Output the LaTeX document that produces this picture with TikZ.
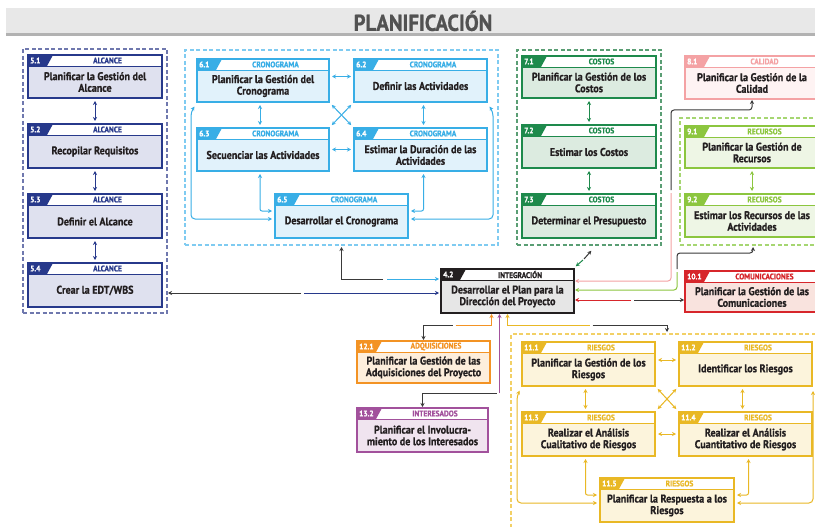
\documentclass[tikz,border=0pt]{standalone}
\usepackage{fontspec}
\setmainfont{PT Sans}[FakeStretch=0.9, BoldFeatures={FakeBold=0.8}]
\usetikzlibrary{arrows.meta,calc}
\definecolor{alc}{HTML}{27398B}\definecolor{alcF}{HTML}{DFE1EF}
\definecolor{cro}{HTML}{38AEE6}\definecolor{croF}{HTML}{E1F2FB}
\definecolor{cos}{HTML}{1E8A4C}\definecolor{cosF}{HTML}{DCEBE0}
\definecolor{cal}{HTML}{F4A2A4}\definecolor{calF}{HTML}{FEF3F3}
\definecolor{rec}{HTML}{8CC63F}\definecolor{recF}{HTML}{EEF6E5}
\definecolor{com}{HTML}{D7262B}\definecolor{comF}{HTML}{F9E3DE}
\definecolor{itg}{HTML}{231F20}\definecolor{itgF}{HTML}{E6E6E6}
\definecolor{adq}{HTML}{F39324}\definecolor{adqF}{HTML}{FDEEDC}
\definecolor{ite}{HTML}{A2519C}\definecolor{iteF}{HTML}{F0E4EF}
\definecolor{rie}{HTML}{E9B825}\definecolor{rieF}{HTML}{FCF4DC}
\definecolor{txt}{HTML}{231F20}
\definecolor{lnk}{HTML}{3A3A3A}
\definecolor{galc}{HTML}{6F78AE}
\definecolor{gcro}{HTML}{7FCBF1}
\definecolor{gcos}{HTML}{5A9E74}
\definecolor{grec}{HTML}{A6D672}
\definecolor{grie}{HTML}{F2D066}
\tikzset{
  numf/.style={font=\fontsize{8.2}{8.2}\selectfont\bfseries, text=white, inner sep=0pt},
  labf/.style={font=\fontsize{8.2}{8.2}\selectfont\bfseries, inner sep=0pt},
  bodyf/.style={font=\fontsize{11.2}{11.6}\selectfont\bfseries, text=txt, align=center, inner sep=0pt},
  grp/.style={dash pattern=on 4pt off 2.5pt, line width=1.2pt, inner sep=0pt, outer sep=0pt, anchor=north west},
  link/.style={line width=1pt, arrows={-Stealth[length=4pt,width=4pt]}, shorten >=1pt},
  dbl/.style={line width=1pt, arrows={Stealth[length=4pt,width=4pt]-Stealth[length=4pt,width=4pt]}, shorten >=3pt, shorten <=3pt},
}
\newcommand\procbox[9]{%
  \node[draw=#6, line width=1.4pt, fill=#6F, minimum width=#4pt, minimum height=#5pt, inner sep=0pt, outer sep=0pt, anchor=north west] (#1) at (#2,#3) {};
  \fill[white] ([xshift=0.6pt,yshift=-0.6pt]#1.north west) rectangle ([xshift=-0.6pt,yshift=-11pt]#1.north east);
  \fill[#6] (#1.north west) -- ([xshift=25pt]#1.north west) -- ([xshift=19pt,yshift=-11pt]#1.north west) -- ([yshift=-11pt]#1.north west) -- cycle;
  \draw[#6, line width=0.9pt] ([yshift=-11pt]#1.north west) -- ([yshift=-11pt]#1.north east);
  \draw[#6, line width=1.4pt] (#1.north west) rectangle (#1.south east);
  \node[numf, anchor=west] (#1n) at ([xshift=2pt,yshift=-5.5pt]#1.north west) {#7};
  \node[labf, text=#6] (#1l) at ([xshift=12.5pt,yshift=-5.5pt]#1.north) {#8};
  \node[bodyf] (#1t) at ([yshift={(#5-11)/2*1pt}]#1.south) {#9};
}
\begin{document}
\begin{tikzpicture}[x=1pt,y=-1pt]
\useasboundingbox (0,0) rectangle (815,527);
\fill[white] (0,0) rectangle (815,527);
% title band
\fill[black!9] (6,8) rectangle (815,33);
\fill[black!30] (6,33) rectangle (815,36);
\node[font=\fontsize{23}{23}\selectfont\bfseries, text=black!68, inner sep=0pt] (title) at (423,21) {PLANIFICACIÓN};
% groups
\node[grp, draw=galc, minimum width=144pt, minimum height=264pt] (gA) at (23,49) {};
\node[grp, draw=gcro, minimum width=313pt, minimum height=195pt] (gC) at (185,50) {};
\node[grp, draw=gcos, minimum width=144pt, minimum height=195pt] (gK) at (517,50) {};
\node[grp, draw=grec, minimum width=146pt, minimum height=127pt] (gR) at (680,118) {};
\node[grp, draw=grie, minimum width=312pt, minimum height=220pt] (gS) at (511,334) {};
% alcance
\procbox{a51}{28}{55}{134}{43}{alc}{5.1}{ALCANCE}{Planificar la Gestión del\\Alcance}
\procbox{a52}{28}{124}{134}{44}{alc}{5.2}{ALCANCE}{Recopilar Requisitos}
\procbox{a53}{28}{194}{134}{44}{alc}{5.3}{ALCANCE}{Definir el Alcance}
\procbox{a54}{28}{263}{134}{44}{alc}{5.4}{ALCANCE}{Crear la EDT/WBS}
% cronograma
\procbox{c61}{197}{59}{132}{43}{cro}{6.1}{CRONOGRAMA}{Planificar la Gestión del\\Cronograma}
\procbox{c62}{354}{59}{133}{43}{cro}{6.2}{CRONOGRAMA}{Definir las Actividades}
\procbox{c63}{197}{128}{132}{43}{cro}{6.3}{CRONOGRAMA}{Secuenciar las Actividades}
\procbox{c64}{354}{128}{133}{43}{cro}{6.4}{CRONOGRAMA}{Estimar la Duración de las\\Actividades}
\procbox{c65}{275}{194}{133}{44}{cro}{6.5}{CRONOGRAMA}{Desarrollar el Cronograma}
% costos
\procbox{k71}{522}{56}{134}{42}{cos}{7.1}{COSTOS}{Planificar la Gestión de los\\Costos}
\procbox{k72}{522}{125}{134}{43}{cos}{7.2}{COSTOS}{Estimar los Costos}
\procbox{k73}{522}{194}{134}{44}{cos}{7.3}{COSTOS}{Determinar el Presupuesto}
% calidad, recursos, comunicaciones
\procbox{q81}{685}{56}{134}{43}{cal}{8.1}{CALIDAD}{Planificar la Gestión de la\\Calidad}
\procbox{r91}{685}{126}{134}{42}{rec}{9.1}{RECURSOS}{Planificar la Gestión de\\Recursos}
\procbox{r92}{685}{194}{134}{43}{rec}{9.2}{RECURSOS}{Estimar los Recursos de las\\Actividades}
\procbox{m101}{685}{271}{134}{41}{com}{10.1}{COMUNICACIONES}{Planificar la Gestión de las\\Comunicaciones}
% integracion
\procbox{i42}{441}{269}{133}{44}{itg}{4.2}{INTEGRACIÓN}{Desarrollar el Plan para la\\Dirección del Proyecto}
% adquisiciones, interesados
\procbox{p121}{357}{341}{133}{42}{adq}{12.1}{ADQUISICIONES}{Planificar la Gestión de las\\Adquisiciones del Proyecto}
\procbox{s132}{357}{408}{131}{44}{ite}{13.2}{INTERESADOS}{Planificar el Involucra-\\miento de los Interesados}
% riesgos
\procbox{r111}{522}{342}{133}{44}{rie}{11.1}{RIESGOS}{Planificar la Gestión de los\\Riesgos}
\procbox{r112}{679}{342}{133}{44}{rie}{11.2}{RIESGOS}{Identificar los Riesgos}
\procbox{r113}{522}{412}{133}{44}{rie}{11.3}{RIESGOS}{Realizar el Análisis\\Cualitativo de Riesgos}
\procbox{r114}{679}{412}{133}{44}{rie}{11.4}{RIESGOS}{Realizar el Análisis\\Cuantitativo de Riesgos}
\procbox{r115}{600}{478}{134}{44}{rie}{11.5}{RIESGOS}{Planificar la Respuesta a los\\Riesgos}
% alcance links
\draw[dbl,alc] (a51) -- (a52);
\draw[dbl,alc] (a52) -- (a53);
\draw[dbl,alc] (a53) -- (a54);
% cronograma links
\draw[dbl,cro] ([yshift=4pt]c61.east) -- ([yshift=4pt]c62.west);
\draw[dbl,cro] ([xshift=-3pt]c61.south) -- ([xshift=-3pt]c63.north);
\draw[dbl,cro] ([xshift=3pt]c62.south) -- ([xshift=3pt]c64.north);
\draw[dbl,cro] (c63) -- (c64);
\draw[dbl,cro,shorten >=4pt,shorten <=4pt] (c61.south east) -- (c64.north west);
\draw[dbl,cro,shorten >=4pt,shorten <=4pt] (c62.south west) -- (c63.north east);
\draw[dbl,cro,rounded corners=2pt] ([xshift=-3pt]c63.south) |- ([yshift=5pt]c65.west);
\draw[dbl,cro,rounded corners=2pt] ([xshift=3pt]c64.south) |- ([yshift=5pt]c65.east);
\draw[dbl,cro,rounded corners=4pt] ([yshift=-3pt]c65.west) -| ([xshift=-6pt,yshift=-10pt]c61.south west) -- ([xshift=-1pt,yshift=-2pt]c61.south west);
\draw[dbl,cro,rounded corners=4pt] ([yshift=-3pt]c65.east) -| ([xshift=6pt,yshift=-10pt]c62.south east) -- ([xshift=1pt,yshift=-2pt]c62.south east);
% costos, recursos links
\draw[dbl,cos] (k71) -- (k72);
\draw[dbl,cos] (k72) -- (k73);
\draw[dbl,rec] (r91) -- (r92);
% riesgos links
\draw[dbl,rie] ([yshift=4pt]r111.east) -- ([yshift=4pt]r112.west);
\draw[dbl,rie] ([xshift=-3pt]r111.south) -- ([xshift=-3pt]r113.north);
\draw[dbl,rie] ([xshift=-3pt]r112.south) -- ([xshift=-3pt]r114.north);
\draw[dbl,rie] (r113) -- (r114);
\draw[dbl,rie,shorten >=4pt,shorten <=4pt] (r111.south east) -- (r114.north west);
\draw[dbl,rie,shorten >=4pt,shorten <=4pt] (r112.south west) -- (r113.north east);
\draw[dbl,rie,rounded corners=2pt] ([xshift=-3pt]r113.south) |- ([yshift=5pt]r115.west);
\draw[dbl,rie,rounded corners=2pt] ([xshift=3pt]r114.south) |- ([yshift=5pt]r115.east);
\draw[dbl,rie,rounded corners=4pt] ([yshift=-3pt]r115.west) -| ([xshift=-5pt,yshift=-10pt]r111.south west) -- ([xshift=-1pt,yshift=-2pt]r111.south west);
\draw[dbl,rie,rounded corners=4pt] ([yshift=-3pt]r115.east) -| ([xshift=1pt,yshift=-10pt]r112.south east) -- ([xshift=1pt,yshift=-2pt]r112.south east);
% integracion links: left
\coordinate (iL1) at ([yshift=-10pt]i42.north west);
\draw[link,cro,shorten >=2pt] ($(iL1)+(-54pt,0)$) -- (iL1);
\draw[link,lnk,shorten >=2pt] ($(iL1)+(-58pt,0)$) -| (gC.south);
\coordinate (iL2) at ([yshift=-24pt]i42.north west);
\draw[link,alc,shorten >=2pt] ($(iL2)+(-137pt,0)$) -- (iL2);
\draw[link,lnk,shorten >=1pt] ($(iL2)+(-140pt,0)$) -- (gA.east |- iL2);
% costos diagonal
\coordinate (iD) at ([shift={(9pt,9pt)}]i42.north east);
\draw[link,cos] (iD) -- ([shift={(1pt,2pt)}]i42.north east);
\draw[link,lnk] ([shift={(1pt,1pt)}]iD) -- ([shift={(18pt,19pt)}]i42.north east);
% calidad
\coordinate (iR1) at ([yshift=-12pt]i42.north east);
\coordinate (q81w) at ([xshift=-14pt]q81.west);
\coordinate (pc) at (q81w |- iR1);
\coordinate (q81b) at ([yshift=-11pt]q81.south);
\draw[link,cal,rounded corners=3pt] ([yshift=88pt]pc) -- (pc) -- (iR1);
\draw[link,lnk,rounded corners=3pt] ([yshift=91pt]pc) -- (pc |- q81b) -| (q81.south);
% recursos
\coordinate (iR2) at ([yshift=-21pt]i42.north east);
\coordinate (gRw) at ([xshift=-3pt]gR.west);
\coordinate (gc) at (gRw |- iR2);
\coordinate (gRb) at ([yshift=-8pt]gR.south);
\draw[link,rec,rounded corners=3pt] ([yshift=18pt]gc) -- (gc) -- (iR2);
\draw[link,lnk,rounded corners=3pt,shorten >=2pt] ([yshift=21pt]gc) -- (gc |- gRb) -| (gR.south);
% comunicaciones
\coordinate (iR3) at ([yshift=-31pt]i42.north east);
\draw[link,com] ($(iR3)+(57pt,0)$) -- (iR3);
\draw[link,lnk] ($(iR3)+(60pt,0)$) -- (m101.west |- iR3);
% bottom links
\coordinate (b1) at ([xshift=-16pt]i42.south);
\coordinate (b1d) at ([xshift=-16pt,yshift=-12pt]i42.south);
\draw[link,adq] ($(b1d)+(-36pt,0)$) -- (b1d) -- (b1);
\draw[link,lnk] ($(b1d)+(-39pt,0)$) -| (p121.north);
\coordinate (b2) at ([xshift=-8pt]i42.south);
\coordinate (b2d) at ([xshift=-8pt,yshift=-80pt]i42.south);
\draw[link,ite] (b2d) -- (b2);
\draw[link,lnk] ($(b2d)+(-3pt,0)$) -| (s132.north);
\coordinate (b3d) at ([yshift=-12pt]i42.south);
\draw[link,rie] ($(b3d)+(82pt,0)$) -- (b3d) -- (i42.south);
\draw[link,lnk,shorten >=2pt] ($(b3d)+(85pt,0)$) -| (gS.north);
\end{tikzpicture}
\end{document}
